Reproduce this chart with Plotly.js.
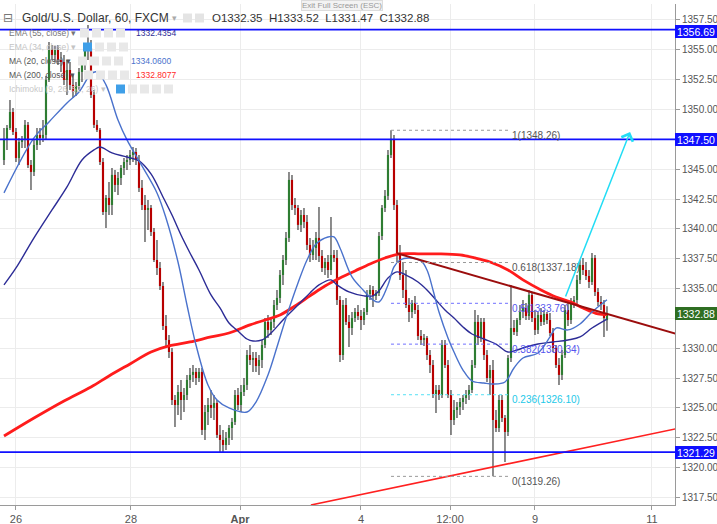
<!DOCTYPE html>
<html><head><meta charset="utf-8">
<script src="https://cdn.plot.ly/plotly-3.0.1.min.js"></script>
<style>html,body{margin:0;padding:0;background:#fff;}#chart{width:717px;height:524px;}</style>
</head><body><div id="chart"></div>
<script>
// ---------- DATA (XAU/USD, 60 min, FXCM) ----------
const priceOpen = [1345.77,1347.45,1348.45,1349.79,1348.12,1345.94,1347.28,1347.53,1348.71,1345.35,
1344.77,1347.03,1347.87,1347.62,1347.87,1352.48,1354.99,1354.57,1354.99,1354.15,
1353.98,1352.48,1353.31,1352.06,1351.47,1351.97,1353.15,1353.73,1354.99,1355.16,
1351.22,1348.71,1348.29,1345.60,1341.41,1342.59,1342.00,1344.52,1343.68,1344.26,
1345.10,1345.60,1345.77,1346.19,1346.44,1345.77,1343.43,1342.00,1341.58,1341.75,
1339.74,1337.39,1336.72,1335.21,1331.86,1330.69,1329.68,1325.66,1325.24,1326.33,
1325.66,1326.08,1327.34,1327.76,1328.01,1327.50,1328.01,1323.15,1324.65,1325.24,
1324.99,1325.41,1322.73,1322.31,1321.89,1322.48,1323.31,1323.82,1326.08,1325.24,
1326.33,1326.92,1329.43,1329.01,1329.18,1328.51,1329.01,1330.27,1332.20,1331.53,
1332.20,1333.62,1334.21,1336.13,1337.39,1339.24,1344.10,1342.00,1341.75,1340.33,
1341.16,1340.58,1338.65,1337.81,1338.40,1339.24,1337.73,1336.72,1337.22,1336.55,
1337.81,1337.56,1334.04,1329.43,1333.62,1332.20,1331.69,1332.53,1333.03,1332.70,
1332.36,1333.03,1334.54,1334.88,1334.38,1334.63,1339.40,1341.75,1342.76,1346.19,
1347.45,1342.00,1337.81,1336.13,1334.88,1333.62,1333.03,1333.79,1333.20,1331.02,
1330.69,1330.86,1329.43,1328.59,1326.16,1326.50,1326.08,1330.27,1328.59,1326.08,
1323.98,1324.82,1325.07,1325.49,1325.83,1326.08,1326.50,1328.59,1332.20,1330.86,
1332.20,1329.43,1327.50,1328.17,1323.98,1323.31,1325.66,1324.15,1322.98,1329.18,
1331.69,1331.36,1332.36,1333.03,1333.37,1332.70,1334.46,1332.53,1331.53,1332.78,
1332.20,1332.87,1332.36,1331.27,1330.02,1328.59,1327.76,1329.43,1333.20,1332.36,
1333.87,1334.04,1335.72,1336.97,1336.55,1336.05,1335.55,1337.56,1334.71,1333.87,
1333.62,1332.35];
const priceHigh = [1348.45,1348.71,1350.80,1350.13,1348.45,1347.62,1347.78,1349.12,1348.96,1345.77,
1347.45,1348.45,1348.45,1349.12,1352.81,1355.66,1355.41,1355.33,1355.41,1354.82,
1354.57,1354.15,1353.98,1352.90,1352.31,1353.48,1354.15,1355.41,1357.08,1355.83,
1351.64,1349.12,1348.45,1345.94,1342.84,1343.93,1345.10,1344.93,1344.77,1345.35,
1345.94,1346.19,1346.61,1346.86,1346.78,1346.19,1344.10,1342.84,1342.42,1342.00,
1340.07,1339.07,1337.22,1335.55,1332.78,1331.11,1330.02,1326.08,1326.92,1327.34,
1326.67,1327.76,1328.34,1328.59,1328.34,1328.34,1328.34,1325.24,1325.83,1326.50,
1326.08,1325.66,1323.57,1323.15,1322.98,1323.57,1324.15,1326.50,1326.67,1326.92,
1327.50,1329.85,1330.27,1329.68,1329.68,1329.43,1330.69,1332.53,1332.78,1332.53,
1334.04,1334.88,1336.55,1337.81,1339.74,1344.77,1344.52,1342.59,1342.00,1341.58,
1341.75,1341.16,1339.24,1339.07,1339.74,1341.83,1338.23,1337.56,1337.81,1340.99,
1338.23,1338.23,1334.38,1334.04,1334.21,1332.78,1333.03,1333.37,1333.62,1333.20,
1333.37,1334.88,1335.30,1335.21,1334.88,1339.74,1342.00,1343.26,1346.61,1348.26,
1347.87,1342.42,1338.65,1337.22,1336.55,1334.21,1334.04,1334.38,1333.62,1331.53,
1331.19,1331.02,1329.85,1329.01,1326.92,1326.92,1330.69,1330.69,1329.01,1326.50,
1325.66,1325.49,1325.83,1326.08,1326.50,1326.92,1329.01,1333.20,1332.78,1332.53,
1332.53,1329.85,1328.59,1329.01,1324.82,1326.08,1326.08,1324.40,1329.43,1335.30,
1332.36,1332.53,1333.62,1334.04,1333.79,1334.88,1334.71,1333.20,1333.03,1333.37,
1333.20,1333.03,1332.95,1331.69,1330.27,1329.18,1329.85,1333.62,1334.04,1334.21,
1334.38,1336.13,1337.39,1337.56,1337.22,1336.55,1337.98,1337.81,1335.05,1334.38,
1334.04,1333.52];
const priceLow = [1345.35,1346.61,1348.29,1347.87,1345.60,1345.35,1346.78,1346.78,1345.10,1343.26,
1344.43,1346.61,1347.03,1347.28,1347.45,1352.31,1354.15,1353.98,1353.73,1353.15,
1352.06,1351.22,1351.64,1350.97,1351.14,1351.64,1352.31,1353.31,1354.15,1350.97,
1348.45,1348.12,1345.35,1341.16,1340.07,1341.16,1341.16,1343.09,1342.84,1343.68,
1344.52,1344.93,1345.35,1345.60,1345.35,1343.09,1341.58,1338.90,1339.91,1339.40,
1337.22,1336.13,1334.88,1331.53,1330.02,1329.18,1325.24,1323.40,1324.40,1323.98,
1324.65,1325.66,1326.67,1327.17,1326.92,1327.17,1322.73,1322.31,1323.57,1324.15,
1323.98,1322.48,1321.30,1321.22,1321.47,1321.89,1322.31,1323.57,1324.82,1324.65,
1326.00,1326.50,1328.59,1328.01,1328.01,1327.76,1328.34,1330.02,1330.86,1331.11,
1331.69,1333.20,1333.79,1335.30,1336.97,1338.90,1341.58,1341.16,1339.91,1339.74,
1340.07,1338.23,1337.22,1337.39,1337.39,1337.22,1336.39,1336.13,1335.88,1336.13,
1337.22,1333.62,1328.84,1329.01,1331.95,1330.10,1331.11,1332.20,1332.36,1331.53,
1331.95,1332.78,1334.04,1333.45,1334.04,1334.38,1339.07,1341.41,1342.42,1345.94,
1341.58,1337.22,1335.72,1334.21,1333.37,1332.20,1332.53,1332.87,1330.69,1330.27,
1330.19,1329.01,1327.92,1325.83,1324.57,1325.66,1325.83,1328.34,1325.83,1322.73,
1323.57,1324.15,1324.40,1324.82,1325.32,1325.66,1326.25,1328.34,1330.27,1330.52,
1329.01,1327.17,1326.08,1319.26,1322.98,1322.98,1323.82,1320.46,1322.64,1328.84,
1331.11,1331.02,1331.95,1332.53,1332.36,1332.36,1332.20,1331.11,1331.19,1331.86,
1331.95,1332.03,1331.02,1329.68,1328.34,1326.92,1327.34,1329.18,1331.86,1332.03,
1333.37,1333.70,1335.38,1336.13,1335.72,1335.05,1335.30,1334.38,1333.54,1333.20,
1330.94,1331.47];
const priceClose = [1347.45,1348.45,1349.79,1348.12,1345.94,1347.28,1347.53,1348.71,1345.35,1344.77,
1347.03,1347.87,1347.62,1347.87,1352.48,1354.99,1354.57,1354.99,1354.15,1353.98,
1352.48,1353.31,1352.06,1351.47,1351.97,1353.15,1353.73,1354.99,1355.16,1351.22,
1348.71,1348.29,1345.60,1341.41,1342.59,1342.00,1344.52,1343.68,1344.26,1345.10,
1345.60,1345.77,1346.19,1346.44,1345.77,1343.43,1342.00,1341.58,1341.75,1339.74,
1337.39,1336.72,1335.21,1331.86,1330.69,1329.68,1325.66,1325.24,1326.33,1325.66,
1326.08,1327.34,1327.76,1328.01,1327.50,1328.01,1323.15,1324.65,1325.24,1324.99,
1325.41,1322.73,1322.31,1321.89,1322.48,1323.31,1323.82,1326.08,1325.24,1326.33,
1326.92,1329.43,1329.01,1329.18,1328.51,1329.01,1330.27,1332.20,1331.53,1332.20,
1333.62,1334.21,1336.13,1337.39,1339.24,1344.10,1342.00,1341.75,1340.33,1341.16,
1340.58,1338.65,1337.81,1338.40,1339.24,1337.73,1336.72,1337.22,1336.55,1337.81,
1337.56,1334.04,1329.43,1333.62,1332.20,1331.69,1332.53,1333.03,1332.70,1332.36,
1333.03,1334.54,1334.88,1334.38,1334.63,1339.40,1341.75,1342.76,1346.19,1347.45,
1342.00,1337.81,1336.13,1334.88,1333.62,1333.03,1333.79,1333.20,1331.02,1330.69,
1330.86,1329.43,1328.59,1326.16,1326.50,1326.08,1330.27,1328.59,1326.08,1323.98,
1324.82,1325.07,1325.49,1325.83,1326.08,1326.50,1328.59,1332.20,1330.86,1332.20,
1329.43,1327.50,1328.17,1323.98,1323.31,1325.66,1324.15,1322.98,1329.18,1331.69,
1331.36,1332.36,1333.03,1333.37,1332.70,1334.46,1332.53,1331.53,1332.78,1332.20,
1332.87,1332.36,1331.27,1330.02,1328.59,1327.76,1329.43,1333.20,1332.36,1333.87,
1334.04,1335.72,1336.97,1336.55,1336.05,1335.55,1337.56,1334.71,1333.87,1333.62,
1332.53,1332.88];

// moving averages (bar index, value)
const ma20Idx = [0,10,15,21,25,29,31,34,38,41,46,51,54,58,61,64,68,71,75,81,84,88,91,94,98,101,104,108,110,112,116,120,123,125,128,130,132,135,139,141,143,145,148,150,153,156,160,163,167,170,173,178,182,184,188,192,196,201];
const ma20Val = [1343.01,1347.62,1348.96,1350.55,1351.47,1352.98,1353.15,1352.06,1349.12,1347.45,1345.27,1343.01,1340.91,1337.22,1333.62,1330.27,1326.92,1325.66,1324.99,1324.65,1325.49,1327.76,1330.10,1332.53,1335.46,1337.39,1338.73,1339.32,1339.32,1338.40,1335.97,1334.80,1334.04,1333.87,1335.30,1336.81,1337.39,1337.56,1337.31,1336.55,1334.88,1333.03,1330.86,1329.68,1328.17,1327.25,1327.08,1327.00,1327.17,1328.34,1329.18,1329.60,1330.94,1331.69,1331.53,1332.03,1333.03,1334.06];
const ema55Idx = [0,4,10,16,21,26,30,32,36,41,45,49,53,56,59,62,65,69,72,75,78,81,83,86,89,93,98,102,105,109,111,115,120,123,125,128,131,134,138,141,144,147,150,153,156,160,164,168,171,174,178,183,188,192,196,201];
const ema55Val = [1335.30,1336.72,1339.24,1341.58,1343.51,1345.77,1346.61,1346.86,1346.36,1346.02,1345.69,1344.60,1342.67,1341.16,1339.49,1337.98,1336.55,1334.46,1333.37,1332.11,1331.44,1330.77,1330.60,1330.69,1331.27,1332.36,1333.62,1334.63,1335.30,1335.72,1335.30,1334.71,1334.38,1334.38,1334.80,1335.88,1336.39,1336.13,1335.55,1334.88,1334.04,1333.20,1332.53,1331.78,1331.19,1330.77,1330.35,1329.68,1329.85,1330.10,1330.35,1330.52,1330.69,1330.94,1331.69,1332.44];
const ma200Idx = [0,10,20,29,35,42,49,55,62,69,75,82,87,92,97,102,107,112,117,122,127,132,139,145,152,157,162,168,173,179,184,189,193,198,201];
const ma200Val = [1322.64,1324.15,1325.58,1326.75,1327.67,1328.68,1329.68,1330.19,1330.52,1330.94,1331.27,1331.95,1332.36,1332.78,1333.54,1334.38,1335.21,1335.88,1336.47,1337.06,1337.56,1337.90,1337.90,1337.90,1337.81,1337.56,1337.22,1336.55,1335.72,1334.88,1334.29,1333.87,1333.37,1332.87,1332.81];

// drawings
const hLevels = [1356.69, 1347.50, 1321.29];
const fibRatios = ['1','0.618','0.5','0.382','0.236','0'];
const fibPrices = [1348.26,1337.18,1333.76,1330.34,1326.10,1319.26];
const fibFromBar = 129, fibToBar = 168;
const resistIdx = [131, 224], resistVal = [1337.95, 1331.20];
const supportIdx = [102.3, 224], supportVal = [1316.86, 1323.25];
const arrowFromIdx = 187, arrowFromVal = 1334.21, arrowToIdx = 208.7, arrowToVal = 1348.12;
const lastPrice = 1332.88;
const tickIdx = [4, 42.3, 78.7, 119, 148.7, 177, 216];
const tickText = ['26','28','<b>Apr</b>','4','12:00','9','11'];
const yTickVals = [1317.5,1320,1322.5,1325,1327.5,1330,1332.5,1335,1337.5,1340,1342.5,1345,1347.5,1350,1352.5,1355,1357.5];
const yTickText = ['1317.50','1320.00','1322.50','1325.00','1327.50','1330.00','','1335.00','1337.50','1340.00','1342.50','1345.00','','1350.00','1352.50','1355.00','1357.50'];
const headerOHLC = 'O1332.35  H1333.52  L1331.47  C1332.88';
const ema55Last = '1332.4354', ma20Last = '1334.0600', ma200Last = '1332.8077';

// ---------- LAYOUT HELPERS ----------
const W=717, H=524, ML=0, MR=42, MT=4, MB=19;
const plotW = W-ML-MR, plotH = H-MT-MB;
const px = x => (x-ML)/plotW;
const py = y => (H-MB-y)/plotH;
const FONT = 'Liberation Sans, Arial, sans-serif';
const UP = '#2e7d32', DOWN = '#b80000';

const idx = priceOpen.map((_, i) => i);
const bodyBase = priceOpen.map((o, i) => Math.min(o, priceClose[i]));
const bodyLen = priceOpen.map((o, i) => Math.abs(priceClose[i] - o));
const wickLen = priceHigh.map((h, i) => h - priceLow[i]);
const bodyColor = priceOpen.map((o, i) => priceClose[i] >= o ? UP : DOWN);

const traces = [
  {type:'bar', x:idx, base:priceLow, y:wickLen, width:0.36, marker:{color:'#2a2a2a', line:{width:0}}, hoverinfo:'skip'},
  {type:'bar', x:idx, base:bodyBase, y:bodyLen, width:0.72, marker:{color:bodyColor, line:{width:0}}, hoverinfo:'skip'},
  {type:'scatter', mode:'lines', x:ma200Idx, y:ma200Val, line:{color:'#ff1c1c', width:2.8, shape:'spline'}},
  {type:'scatter', mode:'lines', x:ema55Idx, y:ema55Val, line:{color:'#2c2c96', width:1.4, shape:'spline'}},
  {type:'scatter', mode:'lines', x:ma20Idx, y:ma20Val, line:{color:'#4a72cc', width:1.4, shape:'spline'}},
  {type:'scatter', mode:'lines', x:resistIdx, y:resistVal, line:{color:'#9b0d0d', width:2}},
  {type:'scatter', mode:'lines', x:supportIdx, y:supportVal, line:{color:'#ff2020', width:1.6}}
];
const fibLineColor = ['#999','#999','#7070ff','#7070ff','#55e0f5','#999'];
const fibTextColor = ['#555','#555','#5555ee','#5555ee','#22c8e8','#555'];
fibPrices.forEach((p, k) => {
  traces.push({type:'scatter', mode:'lines', x:[fibFromBar, fibToBar], y:[p, p],
    line:{color:fibLineColor[k], width:1, dash:'dot'}});
});

const ann = [];
const shapes = [];
const priceTag = (v, color, shift) => ({xref:'paper', x:1, xanchor:'left', yref:'y', y:v, yanchor:'middle', yshift:shift || 0,
  text:v.toFixed(2), showarrow:false, bgcolor:color, font:{family:FONT, size:10.5, color:'#fff'},
  width:40, height:11, borderpad:1, borderwidth:0, align:'center'});
hLevels.forEach((v, k) => {
  shapes.push({type:'line', xref:'paper', x0:0, x1:1, yref:'y', y0:v, y1:v, line:{color:'#1010ff', width:1.6}});
  ann.push(priceTag(v, '#1010ff', k === 0 ? -2 : 0));
});
ann.push(priceTag(lastPrice, '#2f6e22', 0));

fibPrices.forEach((p, k) => {
  ann.push({xref:'x', x:fibToBar, xanchor:'left', xshift:2, yref:'y', y:p, yanchor:'middle', yshift:-5,
    text:fibRatios[k] + '(' + p.toFixed(2) + ')', showarrow:false, font:{family:FONT, size:10, color:fibTextColor[k]}});
});

ann.push({xref:'x', yref:'y', x:arrowToIdx, y:arrowToVal, axref:'x', ayref:'y', ax:arrowFromIdx, ay:arrowFromVal,
  text:'', showarrow:true, arrowhead:4, arrowsize:1.6, arrowwidth:1.5, arrowcolor:'#22ddf5', standoff:0});

// header
const hdr = (x, y, text, size, color, extra) => Object.assign({xref:'paper', yref:'paper', x:px(x), y:py(y),
  xanchor:'left', yanchor:'middle', text, showarrow:false, font:{family:FONT, size, color}}, extra || {});
ann.push(hdr(1, 18, '⊟', 12, '#777', {font:{family:'DejaVu Sans', size:12, color:'#777'}}));
ann.push(hdr(20, 18, 'Gold/U.S. Dollar, 60, FXCM', 12, '#333'));
ann.push(hdr(170, 18, '▾', 9, '#aaa'));
ann.push(hdr(210, 18, headerOHLC, 11.5, '#333'));
ann.push({xref:'paper', yref:'paper', x:px(342), y:py(6), xanchor:'center', yanchor:'middle', text:'Exit Full Screen (ESC)',
  showarrow:false, font:{family:FONT, size:8, color:'#999'}, bgcolor:'#f3f3f3', bordercolor:'#dcdcdc', borderwidth:1, borderpad:0});

// indicator legend
ann.push(hdr(7, 33, 'EMA (55, close) ▾', 8.5, '#777'));
ann.push(hdr(134, 33, ema55Last, 8.5, '#2c2c96'));
ann.push(hdr(7, 47, 'EMA (34, close) ▾', 8.5, '#c4c4c4'));
ann.push(hdr(7, 61, 'MA (20, close) ▾', 8.5, '#555'));
ann.push(hdr(129, 61, ma20Last, 8.5, '#4a72cc'));
ann.push(hdr(7, 75, 'MA (200, close) ▾', 8.5, '#555'));
ann.push(hdr(134, 75, ma200Last, 8.5, '#ff2a2a'));
ann.push(hdr(7, 89, 'Ichimoku (9, 26, 52, 26) ▾', 8.5, '#c8c8c8'));

const icon = (x, y, color) => shapes.push({type:'rect', xref:'paper', yref:'paper', layer:'above',
  x0:px(x), x1:px(x+9), y0:py(y+4.5), y1:py(y-4.5), fillcolor:color, line:{width:0}});
[[183,18],[195,18]].forEach(p => icon(p[0], p[1], '#e4e4e4'));
[80,92,104,116].forEach(x => icon(x, 33, '#e8e8e8'));
icon(83, 47, '#3f9fe8'); [95,107,119].forEach(x => icon(x, 47, '#e8e8e8'));
[78,90,102,114].forEach(x => icon(x, 61, '#e8e8e8'));
[84,96,108,120].forEach(x => icon(x, 75, '#e8e8e8'));
icon(116, 89, '#3f9fe8'); [128,140,152,164].forEach(x => icon(x, 89, '#e8e8e8'));

const layout = {
  width:W, height:H, margin:{l:ML, r:MR, t:MT, b:MB}, paper_bgcolor:'#fff', plot_bgcolor:'#fff',
  showlegend:false, barmode:'overlay', font:{family:FONT},
  xaxis:{range:[-1.33, 223.67], tickmode:'array', tickvals:tickIdx, ticktext:tickText, showgrid:true,
    gridcolor:'#ececec', zeroline:false, showline:true, linecolor:'#9a9a9a', ticks:'outside', ticklen:4,
    tickcolor:'#9a9a9a', tickfont:{family:FONT, size:11, color:'#555'}, fixedrange:true},
  yaxis:{side:'right', range:[1316.86, 1358.84], tickmode:'array', tickvals:yTickVals, ticktext:yTickText, showgrid:true,
    gridcolor:'#ececec', zeroline:false, showline:true, linecolor:'#9a9a9a', ticks:'outside', ticklen:4,
    tickcolor:'#9a9a9a', tickfont:{family:FONT, size:10, color:'#555'}, fixedrange:true},
  shapes, annotations:ann
};
Plotly.newPlot('chart', traces, layout, {staticPlot:true, displayModeBar:false});
</script></body></html>
